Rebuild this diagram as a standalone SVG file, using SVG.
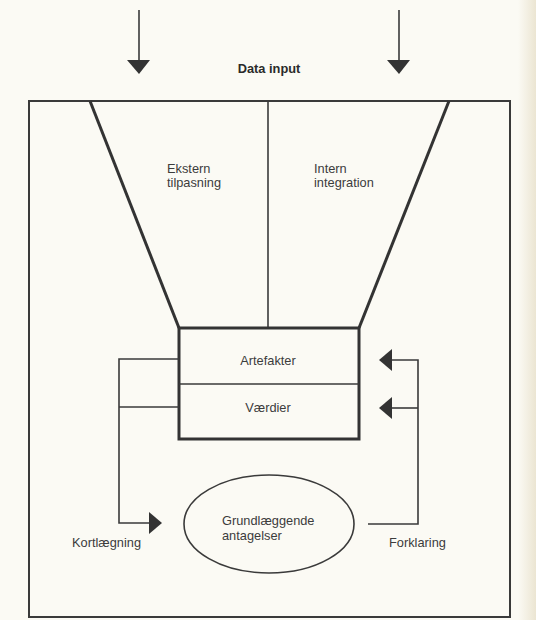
<svg xmlns="http://www.w3.org/2000/svg" width="536" height="620" viewBox="0 0 536 620">
  <defs>
    <linearGradient id="edge" x1="0" y1="0" x2="1" y2="0">
      <stop offset="0" stop-color="#fbfaf4"/>
      <stop offset="1" stop-color="#ebe5d2"/>
    </linearGradient>
    <style>
      .thin { fill: none; stroke: #3a3a3a; stroke-width: 1.6; }
      .heavy { fill: none; stroke: #333; stroke-width: 3; }
      .frame { fill: none; stroke: #3a3a3a; stroke-width: 2; }
      .head { fill: #333; }
      text { font-family: "Liberation Sans", Arial, sans-serif; font-size: 12.8px; fill: #3c3c3c; }
      .c { text-anchor: middle; }
      .b { font-weight: bold; fill: #2a2a2a; }
    </style>
  </defs>

  <!-- paper -->
  <rect x="0" y="0" width="536" height="620" fill="#fbfaf4"/>
  <rect x="518" y="0" width="18" height="620" fill="url(#edge)"/>

  <!-- data input arrows and label -->
  <g id="input">
    <line class="thin" x1="139" y1="10" x2="139" y2="62"/>
    <polygon class="head" points="127,60 150,60 139,74"/>
    <line class="thin" x1="399" y1="10" x2="399" y2="62"/>
    <polygon class="head" points="387,60 410,60 399,74"/>
    <text class="c b" x="269" y="73">Data input</text>
  </g>

  <!-- outer frame -->
  <rect id="frame" class="frame" x="29" y="101" width="481" height="516"/>

  <!-- funnel -->
  <g id="funnel">
    <line class="heavy" x1="90" y1="101" x2="179" y2="328"/>
    <line class="heavy" x1="449" y1="101" x2="359" y2="328"/>
    <line class="thin" x1="268" y1="101" x2="268" y2="328"/>
    <text x="167" y="173">Ekstern</text>
    <text x="167" y="187">tilpasning</text>
    <text x="314" y="173">Intern</text>
    <text x="314" y="187">integration</text>
  </g>

  <!-- artefacts / values box -->
  <g id="levels">
    <rect class="heavy" x="179" y="328" width="180" height="111"/>
    <line class="thin" x1="179" y1="384" x2="359" y2="384"/>
    <text class="c" x="268" y="365">Artefakter</text>
    <text class="c" x="268" y="412">Værdier</text>
  </g>

  <!-- basic assumptions -->
  <g id="assumptions">
    <ellipse class="thin" cx="269" cy="524" rx="85" ry="49"/>
    <text x="222" y="525">Grundlæggende</text>
    <text x="222" y="540">antagelser</text>
  </g>

  <!-- connectors -->
  <g id="connectors">
    <polyline class="thin" points="179,359 119,359 119,523 150,523"/>
    <line class="thin" x1="119" y1="407" x2="179" y2="407"/>
    <polygon class="head" points="149,512 149,534 162,523"/>
    <polyline class="thin" points="368,524 418,524 418,360 390,360"/>
    <line class="thin" x1="418" y1="408" x2="390" y2="408"/>
    <polygon class="head" points="392,349 392,371 379,360"/>
    <polygon class="head" points="392,397 392,419 379,408"/>
  </g>

  <!-- process labels -->
  <g id="labels">
    <text x="72" y="547">Kortlægning</text>
    <text x="389" y="547">Forklaring</text>
  </g>
</svg>
